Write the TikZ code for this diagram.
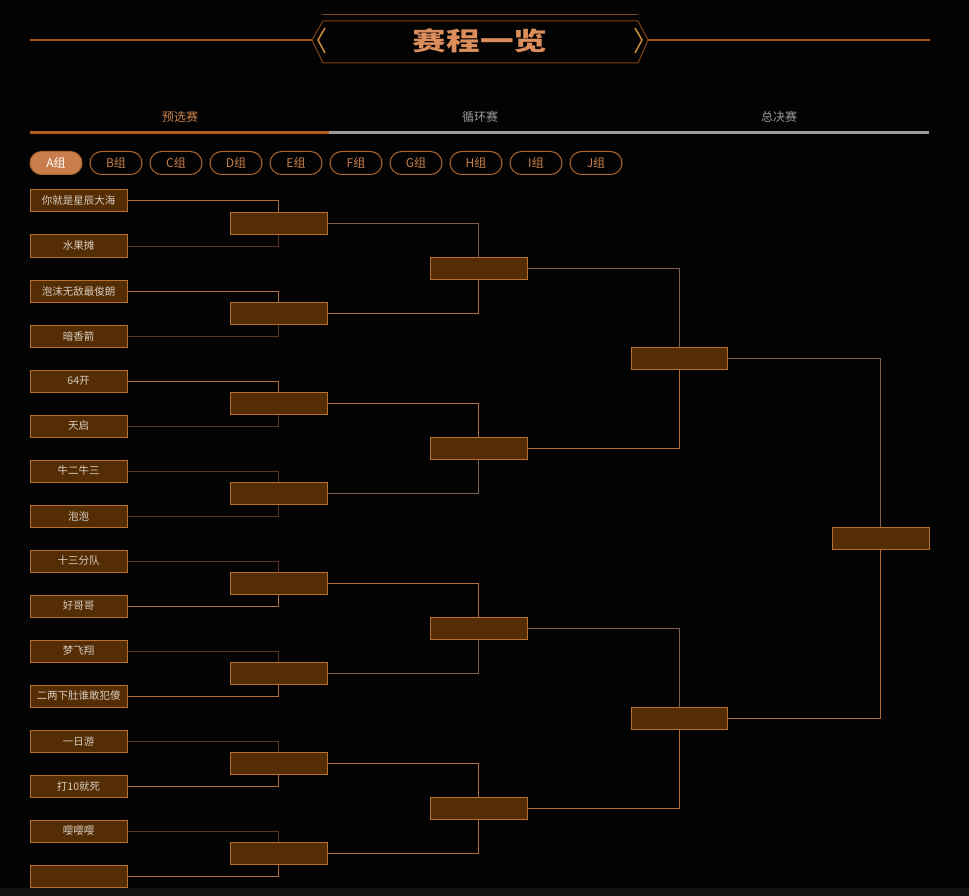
\documentclass[tikz,border=0pt]{standalone}
\usepackage{fontspec}
\setmainfont{Noto Sans CJK SC}
\usetikzlibrary{calc}
\definecolor{bg}{HTML}{030303}
\definecolor{boxfill}{HTML}{552D05}
\definecolor{boxedge}{HTML}{B8702F}
\definecolor{lineA}{HTML}{B06A3C}
\definecolor{lineB}{HTML}{5A3622}
\definecolor{lineC}{HTML}{806050}
\definecolor{orangetxt}{HTML}{C8804A}
\definecolor{greytxt}{HTML}{9A9A9A}
\definecolor{teamtxt}{HTML}{D6CCC0}
\definecolor{pillfill}{HTML}{C97C4C}
\definecolor{pilledge}{HTML}{B0652C}
\definecolor{frame}{HTML}{A0561A}
\definecolor{framedark}{HTML}{7E4414}
\definecolor{chev}{HTML}{D08A3A}
\definecolor{titlecol}{HTML}{DC8E5C}
\definecolor{baror}{HTML}{B0601C}
\definecolor{strip}{HTML}{121212}
\tikzset{
  txt/.style={font=\fontsize{12}{14}\selectfont},
  teambox/.style={draw=boxedge, fill=boxfill, line width=1pt, minimum width=97pt,
    minimum height=22pt, inner sep=0pt, text=teamtxt, font=\fontsize{10.5}{12}\selectfont},
  matchbox/.style={teambox},
  pillbox/.style={draw=pilledge, line width=1pt, rounded corners=11.5pt, minimum width=52pt,
    minimum height=23pt, inner sep=0pt, text=orangetxt, txt},
  conn/.style={line width=1pt},
  tabtxt/.style={txt, inner sep=0pt},
}
\begin{document}
\begin{tikzpicture}[x=1pt,y=-1pt]
\useasboundingbox (0,0) rectangle (969,896);
\fill[bg] (0,0) rectangle (969,896);
\fill[strip] (0,888) rectangle (969,896);

% header
\draw[frame, line width=1.1pt] (30,40) -- (312,40);
\draw[frame, line width=1.1pt] (648,40) -- (930,40);
\draw[framedark, line width=1pt] (322,15) -- (638,15);
\draw[framedark, line width=1pt] (312,40) -- (323,21) -- (638,21) -- (648,40) -- (638,63) -- (323,63) -- cycle;
\draw[chev, line width=1.5pt] (325,28) -- (318,40) -- (325,53);
\draw[chev, line width=1.5pt] (635,28) -- (642,40) -- (635,53);
\node[text=titlecol, font=\fontsize{24}{26}\selectfont\bfseries] (title) at (480,41) {\scalebox{1.4}[1.05]{赛程一览}};

% tabs
\node[tabtxt, text=orangetxt] (tab1) at (180,117) {预选赛};
\node[tabtxt, text=greytxt] (tab2) at (480,117) {循环赛};
\node[tabtxt, text=greytxt] (tab3) at (779,117) {总决赛};
\fill[baror] (30,131.5) rectangle (329,134.5);
\fill[greytxt] (329,131.5) rectangle (929,134.5);

% group pills
\node[pillbox, fill=pillfill, text=white] (gA) at (56,163) {A组};
\foreach \g [count=\k] in {B,C,D,E,F,G,H,I,J} {
  \node[pillbox] (g\g) at (56+60*\k,163) {\g 组};
}

% round 1 teams
\foreach \n [count=\i] in {你就是星辰大海, 水果摊, 泡沫无敌最俊朗, 暗香箭,
  64开, 天启, 牛二牛三, 泡泡, 十三分队, 好哥哥,
  梦飞翔, 二两下肚谁敢犯傻, 一日游, 打10就死, 嘤嘤嘤, {}} {
  \node[teambox] (t\i) at (78.5,{201+45*(\i-1)}) {\n};
}
% round 2
\foreach \k in {1,...,8} {
  \node[matchbox] (r\k) at (278.5,{223.5+90*(\k-1)}) {};
}
% round 3
\foreach \k in {1,...,4} {
  \node[matchbox] (s\k) at (478.5,{268.5+180*(\k-1)}) {};
}
% round 4
\node[matchbox, minimum width=96pt] (q1) at (679,358.5) {};
\node[matchbox, minimum width=96pt] (q2) at (679,718.5) {};
% final
\node[matchbox] (f) at (880.5,538.5) {};

% connectors round 1 -> round 2
\foreach \i/\c in {1/lineA,2/lineB,3/lineA,4/lineB,5/lineA,6/lineB,7/lineB,8/lineB,
  9/lineB,10/lineA,11/lineB,12/lineA,13/lineB,14/lineA,15/lineB,16/lineA} {
  \pgfmathtruncatemacro{\j}{(\i+1)/2}
  \pgfmathtruncatemacro{\odd}{mod(\i,2)}
  \ifnum\odd=1
    \draw[conn, draw=\c] (t\i.east) -| (r\j.north);
  \else
    \draw[conn, draw=\c] (t\i.east) -| (r\j.south);
  \fi
}
% round 2 -> round 3
\foreach \i/\c in {1/lineC,2/lineA,3/lineA,4/lineC,5/lineA,6/lineC,7/lineA,8/lineA} {
  \pgfmathtruncatemacro{\j}{(\i+1)/2}
  \pgfmathtruncatemacro{\odd}{mod(\i,2)}
  \ifnum\odd=1
    \draw[conn, draw=\c] (r\i.east) -| (s\j.north);
  \else
    \draw[conn, draw=\c] (r\i.east) -| (s\j.south);
  \fi
}
% round 3 -> round 4
\draw[conn, draw=lineC] (s1.east) -| (q1.north);
\draw[conn, draw=lineA] (s2.east) -| (q1.south);
\draw[conn, draw=lineC] (s3.east) -| (q2.north);
\draw[conn, draw=lineA] (s4.east) -| (q2.south);
% round 4 -> final
\draw[conn, draw=lineC] (q1.east) -| (f.north);
\draw[conn, draw=lineA] (q2.east) -| (f.south);
\end{tikzpicture}
\end{document}
